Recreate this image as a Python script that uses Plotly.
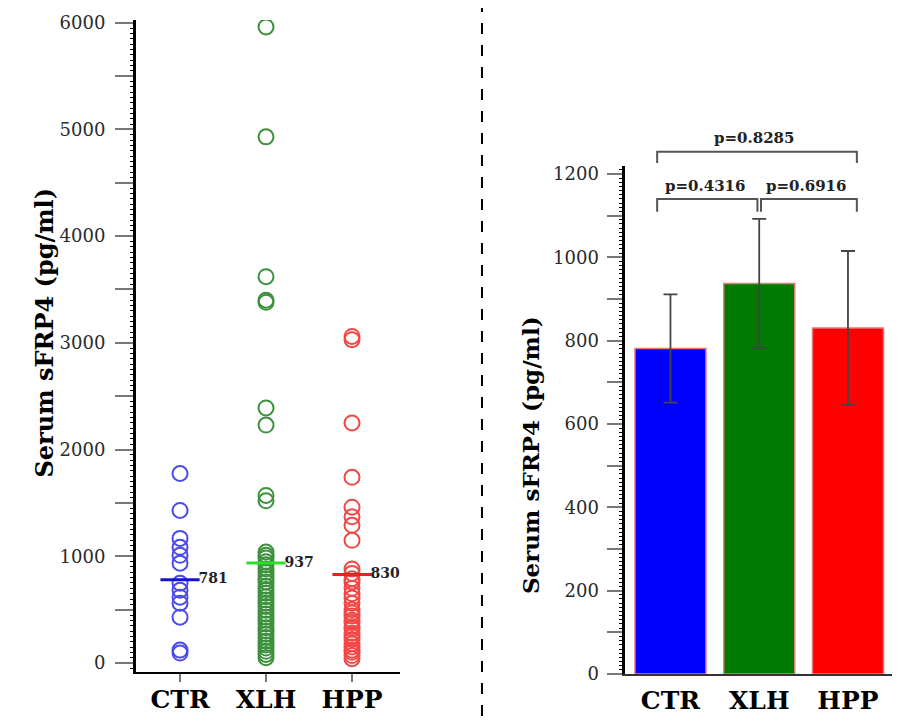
import plotly.graph_objects as go

# ---------------- data ----------------
groups = ["CTR", "XLH", "HPP"]
ctr_vals = [1776, 1430, 1168, 1084, 1009, 935, 748, 682, 617, 561, 430, 121, 93]
xlh_vals = [5960, 4930, 3620, 3400, 3380, 2390, 2230, 1570, 1520,
            1040, 1010, 985, 950, 920, 880, 850, 815, 790, 760, 720, 690, 655,
            620, 590, 560, 530, 495, 460, 430, 400, 365, 330, 300, 270, 240,
            205, 170, 140, 110, 80, 50]
hpp_vals = [3060, 3030, 2250, 1740, 1460, 1370, 1290, 1150,
            880, 840, 790, 760, 700, 650, 610, 560, 500, 470, 440, 400, 380,
            340, 320, 280, 250, 220, 180, 150, 120, 100, 70, 40]
means = [781, 937, 830]
sems = [130, 155, 185]
pairs = [(0, 1), (1, 2), (0, 2)]
pvals = ["p=0.4316", "p=0.6916", "p=0.8285"]

left_ticks = [0, 500, 1000, 1500, 2000, 2500, 3000, 3500, 4000, 4500, 5000, 5500, 6000]
left_labels = ["0", "", "1000", "", "2000", "", "3000", "", "4000", "", "5000", "", "6000"]
right_ticks = [0, 100, 200, 300, 400, 500, 600, 700, 800, 900, 1000, 1100, 1200]
right_labels = ["0", "", "200", "", "400", "", "600", "", "800", "", "1000", "", "1200"]

# ---------------- styles / layout geometry ----------------
dot_colors = ["rgb(75,75,235)", "rgb(60,145,60)", "rgb(245,70,70)"]
mean_colors = ["rgb(20,20,200)", "rgb(40,225,40)", "rgb(240,30,30)"]
bar_colors = ["#0000ff", "#007a00", "#ff0000"]
SERIF = "DejaVu Serif"
W, H = 884, 708
OX, OY = 8, 8   # page offset of the plot div (body margin)


def fx(xs):
    return (xs - OX) / W


def fy(ys):
    return 1 - (ys - OY) / H


XD1 = [fx(136), fx(400)]
YD1 = [fy(672), fy(20)]
XR1 = [-0.512, 2.558]
YR1 = [-84, 6025]

XD2 = [fx(624.5), fx(892)]
YD2 = [fy(674), fy(166)]
XR2 = [-0.518, -0.518 + (892 - 624.5) / 88.75]
YR2 = [0, 1219]


def px2(v):
    return XD2[0] + (v - XR2[0]) / (XR2[1] - XR2[0]) * (XD2[1] - XD2[0])


def py2(v):
    return YD2[0] + (v - YR2[0]) / (YR2[1] - YR2[0]) * (YD2[1] - YD2[0])


fig = go.Figure()

# ---------- left: scatter of individual values ----------
for g, vals, c in zip(groups, [ctr_vals, xlh_vals, hpp_vals], dot_colors):
    fig.add_trace(go.Scatter(
        x=[g] * len(vals), y=vals, mode="markers", xaxis="x", yaxis="y",
        marker=dict(symbol="circle-open", size=15, color=c, line=dict(width=2, color=c)),
        hoverinfo="y"))

fig.add_trace(go.Scatter(
    x=groups, y=means, mode="markers+text", xaxis="x", yaxis="y",
    text=["<b>%d</b>" % m for m in means], textposition="middle right",
    textfont=dict(family=SERIF, size=14, color="#222"),
    marker=dict(symbol="line-ew", size=28, color=mean_colors,
                line=dict(width=3, color=mean_colors)),
    cliponaxis=False))

# ---------- right: bar chart with SEM ----------
fig.add_trace(go.Bar(
    x=groups, y=means, xaxis="x2", yaxis="y2", width=0.8,
    marker=dict(color=bar_colors, line=dict(color="rgb(235,120,120)", width=1.5)),
    error_y=dict(type="data", array=sems, visible=True, color="#444",
                 thickness=1.8, width=7)))

shapes = []
annotations = []
for (a, b), p in zip(pairs, pvals):
    outer = (b - a) > 1
    lvl = 1253 if outer else 1140
    drop = 27 if outer else 31
    x0 = a + (0.02 if a == 1 else -0.15)
    x1 = b + (-0.02 if b == 1 else 0.1)
    path = "M {x0},{yb} L {x0},{yt} L {x1},{yt} L {x1},{yb}".format(
        x0=px2(x0), x1=px2(x1), yt=py2(lvl), yb=py2(lvl - drop))
    shapes.append(dict(type="path", path=path, xref="paper", yref="paper",
                       line=dict(color="#555", width=2)))
    annotations.append(dict(
        x=px2((x0 + x1) / 2 - 0.03), y=py2(lvl + 32), xref="paper", yref="paper",
        xanchor="center", yanchor="middle",
        text="<b>%s</b>" % p, showarrow=False,
        font=dict(family=SERIF, size=15, color="#222")))

# dashed divider
shapes.append(dict(type="line", xref="paper", yref="paper",
                   x0=fx(482), x1=fx(482), y0=0, y1=1,
                   line=dict(color="black", width=2, dash="11px,11px")))

# axis titles
annotations.append(dict(x=fx(27), y=fy(333), xref="paper", yref="paper",
                        text="<b>Serum sFRP4 (pg/ml)</b>", textangle=-90, showarrow=False,
                        font=dict(family=SERIF, size=24, color="black")))
annotations.append(dict(x=fx(530), y=fy(455), xref="paper", yref="paper",
                        text="<b>Serum sFRP4 (pg/ml)</b>", textangle=-90, showarrow=False,
                        font=dict(family=SERIF, size=23, color="black")))

cat_font = dict(family=SERIF, size=25, color="black", weight="bold")
tick_font = dict(family=SERIF, size=18, color="#2a2a2a")

fig.update_layout(
    width=W, height=H, margin=dict(l=0, r=0, t=0, b=0, pad=0, autoexpand=False),
    paper_bgcolor="white", plot_bgcolor="white", showlegend=False,
    shapes=shapes, annotations=annotations,
    xaxis=dict(domain=XD1, anchor="y", type="category", categoryorder="array",
               categoryarray=groups, range=XR1, showline=True, linecolor="black",
               linewidth=1.5, ticks="outside", ticklen=8, tickwidth=2, tickcolor="#777",
               tickfont=cat_font, ticklabelstandoff=-4, showgrid=False, zeroline=False,
               automargin=False),
    yaxis=dict(domain=YD1, anchor="x", range=YR1, tickmode="array",
               tickvals=left_ticks, ticktext=left_labels, ticks="outside", ticklen=18,
               tickwidth=2, tickcolor="#777", showline=True, linecolor="black",
               linewidth=3, tickfont=tick_font, ticklabelstandoff=6,
               minor=dict(ticks="outside", ticklen=3, dtick=50, tickcolor="black", tickwidth=1),
               showgrid=False, zeroline=False, automargin=False),
    xaxis2=dict(domain=XD2, anchor="y2", type="category", categoryorder="array",
                categoryarray=groups, range=XR2, showline=True, linecolor="#333",
                linewidth=1.5, ticks="", tickfont=cat_font, ticklabelstandoff=3,
                showgrid=False, zeroline=False, automargin=False),
    yaxis2=dict(domain=YD2, anchor="x2", range=YR2, tickmode="array",
                tickvals=right_ticks, ticktext=right_labels, ticks="outside", ticklen=15,
                tickwidth=2, tickcolor="#777", showline=True, linecolor="black",
                linewidth=3, tickfont=tick_font, ticklabelstandoff=4,
                minor=dict(ticks="outside", ticklen=3, dtick=10, tickcolor="black", tickwidth=1),
                showgrid=False, zeroline=False, automargin=False),
)

fig.write_html("out.html")
